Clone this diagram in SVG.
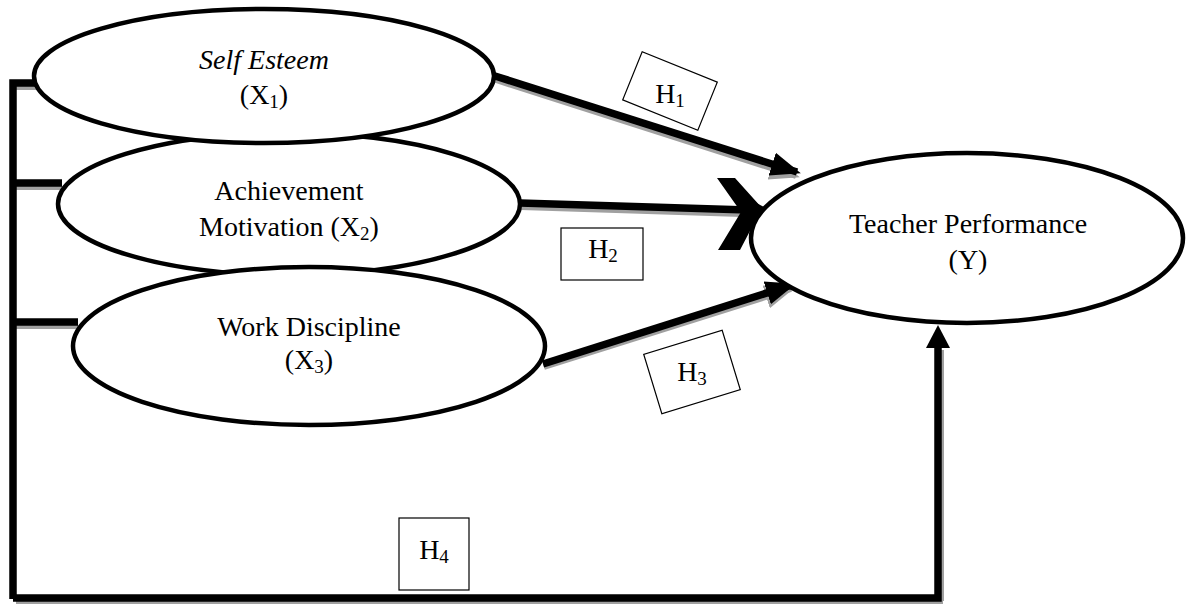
<svg xmlns="http://www.w3.org/2000/svg" width="1189" height="605" viewBox="0 0 1189 605">
<style>
.ell{fill:#fff;stroke:#000;stroke-width:4.5}
.ln{fill:none;stroke:#000;stroke-width:7.5}
.sh{fill:none;stroke:#a0a0a0;stroke-width:6}
.box{fill:#fff;stroke:#000;stroke-width:1.2}
text{font-family:"Liberation Serif","Times New Roman",serif;font-size:28px;fill:#000;text-anchor:middle}
.sub{font-size:19px}
</style>
<defs>
<marker id="ah" markerUnits="userSpaceOnUse" markerWidth="30" markerHeight="26" refX="26" refY="13" orient="auto" viewBox="0 0 30 26"><path d="M0,1 L30,13 L0,25 Z" fill="#000"/></marker>
<marker id="ahs" markerUnits="userSpaceOnUse" markerWidth="30" markerHeight="26" refX="26" refY="13" orient="auto" viewBox="0 0 30 26"><path d="M0,1 L30,13 L0,25 Z" fill="#a0a0a0"/></marker>
</defs>
<g id="connectors">
<line class="sh" x1="16" y1="87" x2="38" y2="87"/>
<line class="sh" x1="16" y1="187" x2="62" y2="187"/>
<line class="sh" x1="16" y1="326" x2="78" y2="326"/>
<line class="sh" x1="16" y1="601" x2="943" y2="601"/>
<line class="sh" x1="941" y1="601" x2="941" y2="350" stroke-width="4"/>
<line class="sh" x1="496" y1="80" x2="796" y2="176" marker-end="url(#ahs)"/>
<line class="sh" x1="521" y1="207" x2="742" y2="214"/>
<line class="sh" x1="544" y1="367" x2="791" y2="289" marker-end="url(#ahs)"/>
<polyline class="ln" points="13,599 13,83 38,83"/>
<line class="ln" x1="13" y1="183" x2="62" y2="183"/>
<line class="ln" x1="13" y1="322" x2="78" y2="322"/>
<polyline class="ln" points="13,598 938,598 938,346"/>
<polygon points="938,325 950,348 926,348" fill="#000"/>
<line class="ln" x1="495" y1="76" x2="797" y2="172" marker-end="url(#ah)"/>
<line class="ln" x1="520" y1="203" x2="748" y2="210"/>
<polygon points="717,178 735,178 762,208 740,250 718,250 741,212" fill="#000"/>
<polygon points="745,197 766,208 746,222" fill="#000"/>
<line class="ln" x1="543" y1="364" x2="792" y2="285" marker-end="url(#ah)"/>
</g>
<g id="X2">
<ellipse class="ell" cx="289" cy="204" rx="231" ry="71"/>
<text x="289" y="200">Achievement</text>
<text x="289" y="236">Motivation (X<tspan class="sub" dy="4">2</tspan><tspan dy="-4">)</tspan></text>
</g>
<g id="X1">
<ellipse class="ell" cx="264" cy="76" rx="230" ry="67"/>
<text x="264" y="69" font-style="italic">Self Esteem</text>
<text x="264" y="104">(X<tspan class="sub" dy="4">1</tspan><tspan dy="-4">)</tspan></text>
</g>
<g id="X3">
<ellipse class="ell" cx="309" cy="346" rx="236" ry="79"/>
<text x="309" y="336">Work Discipline</text>
<text x="309" y="369">(X<tspan class="sub" dy="4">3</tspan><tspan dy="-4">)</tspan></text>
</g>
<g id="Y">
<ellipse class="ell" cx="967" cy="238" rx="216" ry="85"/>
<text x="968" y="233">Teacher Performance</text>
<text x="968" y="269">(Y)</text>
</g>
<g id="H1">
<rect class="box" x="-40.5" y="-26" width="81" height="52" transform="translate(670,91) rotate(22)"/>
<text x="670" y="103">H<tspan class="sub" dy="4">1</tspan></text>
</g>
<g id="H2">
<rect class="box" x="561" y="228" width="82" height="52"/>
<text x="603" y="258">H<tspan class="sub" dy="4">2</tspan></text>
</g>
<g id="H3">
<rect class="box" x="-41" y="-31" width="82" height="62" transform="translate(692,372) rotate(-17)"/>
<text x="692" y="381">H<tspan class="sub" dy="4">3</tspan></text>
</g>
<g id="H4">
<rect class="box" x="399" y="518" width="70" height="72"/>
<text x="434" y="559">H<tspan class="sub" dy="4">4</tspan></text>
</g>
</svg>
